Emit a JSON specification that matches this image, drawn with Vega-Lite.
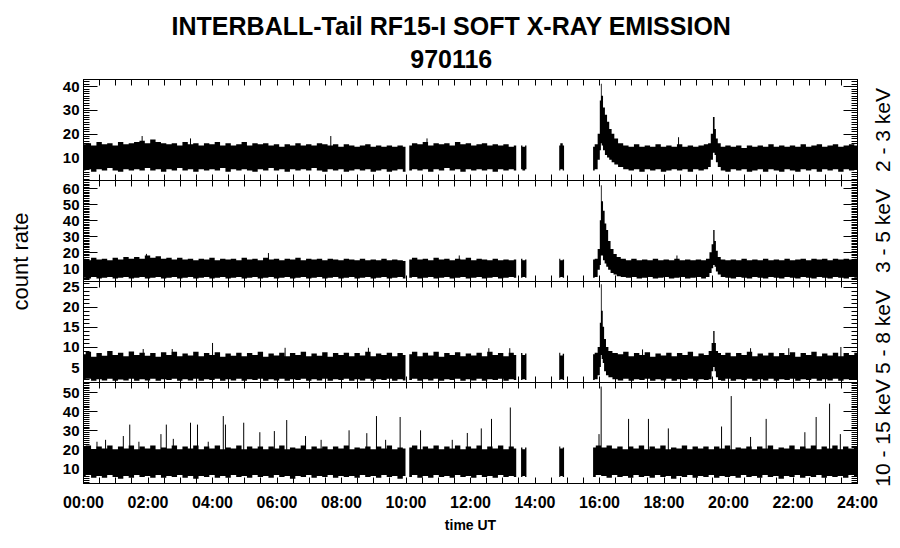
{
"$schema": "https://vega.github.io/schema/vega-lite/v6.json",
"background": "white",
"padding": {"left": 8, "top": 14, "right": 5, "bottom": 5},
"title": {"text": ["INTERBALL-Tail RF15-I SOFT X-RAY EMISSION", "970116"], "font": "Liberation Sans", "fontWeight": "bold", "fontSize": 25, "lineHeight": 33, "color": "black", "anchor": "middle", "offset": -1},
"config": {
 "font": "Liberation Sans",
 "view": {"stroke": "black", "strokeWidth": 1},
 "axis": {"domainColor": "black", "domainWidth": 1, "tickColor": "black", "tickWidth": 1, "labelColor": "black", "titleColor": "black", "grid": false, "labelFont": "Liberation Sans", "labelFontWeight": "bold", "labelFontSize": 15, "labelOverlap": false, "labelFlush": false, "titleFont": "Liberation Sans"}
},
"datasets": {
"band": [
{"p":1,"s":1,"t":0,"l":4.5,"h":15.5},{"p":1,"s":1,"t":10,"l":5,"h":16},{"p":1,"s":1,"t":20,"l":4,"h":15},{"p":1,"s":1,"t":30,"l":5,"h":16.5},{"p":1,"s":1,"t":40,"l":4.5,"h":15.5},{"p":1,"s":1,"t":50,"l":5.5,"h":16},{"p":1,"s":1,"t":60,"l":4.5,"h":15},{"p":1,"s":1,"t":70,"l":4,"h":16.5},{"p":1,"s":1,"t":80,"l":5,"h":15.5},{"p":1,"s":1,"t":90,"l":4.5,"h":16},
{"p":1,"s":1,"t":100,"l":5,"h":16.5},{"p":1,"s":1,"t":110,"l":4.5,"h":17},{"p":1,"s":1,"t":120,"l":5.5,"h":16},{"p":1,"s":1,"t":130,"l":4.5,"h":17.5},{"p":1,"s":1,"t":140,"l":5,"h":16.5},{"p":1,"s":1,"t":150,"l":4,"h":16},{"p":1,"s":1,"t":160,"l":5,"h":15.5},{"p":1,"s":1,"t":170,"l":4.5,"h":16},{"p":1,"s":1,"t":180,"l":5.5,"h":15},{"p":1,"s":1,"t":190,"l":4.5,"h":16.5},
{"p":1,"s":1,"t":200,"l":5,"h":15.5},{"p":1,"s":1,"t":210,"l":4,"h":16},{"p":1,"s":1,"t":220,"l":5,"h":15},{"p":1,"s":1,"t":230,"l":4.5,"h":16},{"p":1,"s":1,"t":240,"l":5,"h":15.5},{"p":1,"s":1,"t":250,"l":4.5,"h":16.5},{"p":1,"s":1,"t":260,"l":5.5,"h":15},{"p":1,"s":1,"t":270,"l":4,"h":16},{"p":1,"s":1,"t":280,"l":5,"h":15},{"p":1,"s":1,"t":290,"l":4.5,"h":15.5},
{"p":1,"s":1,"t":300,"l":5,"h":16.5},{"p":1,"s":1,"t":310,"l":4.5,"h":15},{"p":1,"s":1,"t":320,"l":4,"h":16},{"p":1,"s":1,"t":330,"l":5,"h":15.5},{"p":1,"s":1,"t":340,"l":4.5,"h":16},{"p":1,"s":1,"t":350,"l":5.5,"h":15},{"p":1,"s":1,"t":360,"l":4.5,"h":15.5},{"p":1,"s":1,"t":370,"l":5,"h":14.5},{"p":1,"s":1,"t":380,"l":4,"h":15.5},{"p":1,"s":1,"t":390,"l":5,"h":15},
{"p":1,"s":1,"t":400,"l":4.5,"h":16},{"p":1,"s":1,"t":410,"l":5,"h":15},{"p":1,"s":1,"t":420,"l":4.5,"h":15.5},{"p":1,"s":1,"t":430,"l":5.5,"h":15},{"p":1,"s":1,"t":440,"l":4.5,"h":16},{"p":1,"s":1,"t":450,"l":4,"h":15.5},{"p":1,"s":1,"t":460,"l":5,"h":15},{"p":1,"s":1,"t":470,"l":4.5,"h":15.5},{"p":1,"s":1,"t":480,"l":5,"h":14.5},{"p":1,"s":1,"t":490,"l":4,"h":15.5},
{"p":1,"s":1,"t":500,"l":4.5,"h":15},{"p":1,"s":1,"t":510,"l":5,"h":14.5},{"p":1,"s":1,"t":520,"l":4.5,"h":15},{"p":1,"s":1,"t":530,"l":5,"h":15.5},{"p":1,"s":1,"t":540,"l":4,"h":14.5},{"p":1,"s":1,"t":550,"l":4.5,"h":15},{"p":1,"s":1,"t":560,"l":5,"h":14.5},{"p":1,"s":1,"t":570,"l":4,"h":15},{"p":1,"s":1,"t":580,"l":4.5,"h":14.5},{"p":1,"s":1,"t":590,"l":5,"h":15},{"p":1,"s":1,"t":600,"l":4,"h":14.5},
{"p":1,"s":2,"t":607,"l":4.5,"h":15},{"p":1,"s":2,"t":617,"l":5,"h":16},{"p":1,"s":2,"t":627,"l":4.5,"h":15.5},{"p":1,"s":2,"t":637,"l":5,"h":16.5},{"p":1,"s":2,"t":647,"l":4,"h":15},{"p":1,"s":2,"t":657,"l":5,"h":16},{"p":1,"s":2,"t":667,"l":4.5,"h":15.5},{"p":1,"s":2,"t":677,"l":5.5,"h":16},{"p":1,"s":2,"t":687,"l":4.5,"h":15},{"p":1,"s":2,"t":697,"l":5,"h":16.5},{"p":1,"s":2,"t":707,"l":4,"h":15.5},{"p":1,"s":2,"t":717,"l":5,"h":16},{"p":1,"s":2,"t":727,"l":4.5,"h":15},{"p":1,"s":2,"t":737,"l":5,"h":15.5},{"p":1,"s":2,"t":747,"l":4.5,"h":16},{"p":1,"s":2,"t":757,"l":5,"h":15},{"p":1,"s":2,"t":767,"l":4,"h":15.5},{"p":1,"s":2,"t":777,"l":5,"h":15},{"p":1,"s":2,"t":787,"l":4.5,"h":15.5},{"p":1,"s":2,"t":797,"l":5,"h":14.5},{"p":1,"s":2,"t":806,"l":4.5,"h":15},
{"p":1,"s":3,"t":815,"l":5,"h":15},{"p":1,"s":3,"t":820,"l":4.5,"h":14.5},{"p":1,"s":3,"t":825,"l":5,"h":15},
{"p":1,"s":4,"t":886,"l":4.5,"h":15},{"p":1,"s":4,"t":890,"l":5,"h":16},{"p":1,"s":4,"t":895,"l":4.5,"h":15},
{"p":1,"s":5,"t":949,"l":4.5,"h":14.5},{"p":1,"s":5,"t":955,"l":5,"h":15.5},{"p":1,"s":5,"t":960,"l":9,"h":20},{"p":1,"s":5,"t":963,"l":13,"h":34},{"p":1,"s":5,"t":964,"l":16,"h":41},{"p":1,"s":5,"t":966,"l":15,"h":36},{"p":1,"s":5,"t":969,"l":13,"h":31},{"p":1,"s":5,"t":973,"l":11,"h":28},{"p":1,"s":5,"t":977,"l":10,"h":25},{"p":1,"s":5,"t":981,"l":9,"h":22},{"p":1,"s":5,"t":986,"l":8,"h":20},{"p":1,"s":5,"t":991,"l":7,"h":18},{"p":1,"s":5,"t":1000,"l":6,"h":16},{"p":1,"s":5,"t":1010,"l":5,"h":15},
{"p":1,"s":5,"t":1020,"l":4.5,"h":14.5},{"p":1,"s":5,"t":1030,"l":5,"h":15.5},{"p":1,"s":5,"t":1040,"l":4,"h":14.5},{"p":1,"s":5,"t":1050,"l":5,"h":15},{"p":1,"s":5,"t":1060,"l":4.5,"h":14.5},{"p":1,"s":5,"t":1070,"l":5,"h":15.5},{"p":1,"s":5,"t":1080,"l":4,"h":14.5},{"p":1,"s":5,"t":1090,"l":4.5,"h":15},{"p":1,"s":5,"t":1100,"l":5,"h":14.5},{"p":1,"s":5,"t":1110,"l":4.5,"h":15.5},{"p":1,"s":5,"t":1120,"l":5,"h":14.5},{"p":1,"s":5,"t":1130,"l":4,"h":15},{"p":1,"s":5,"t":1140,"l":5,"h":14.5},{"p":1,"s":5,"t":1150,"l":4.5,"h":15},{"p":1,"s":5,"t":1160,"l":5,"h":15.5},
{"p":1,"s":5,"t":1166,"l":6,"h":16},{"p":1,"s":5,"t":1170,"l":9,"h":20},{"p":1,"s":5,"t":1174,"l":12,"h":27},{"p":1,"s":5,"t":1176,"l":11,"h":22},{"p":1,"s":5,"t":1179,"l":8,"h":18},{"p":1,"s":5,"t":1183,"l":6,"h":16},{"p":1,"s":5,"t":1190,"l":4.5,"h":14.5},
{"p":1,"s":5,"t":1200,"l":4,"h":15},{"p":1,"s":5,"t":1210,"l":5,"h":14.5},{"p":1,"s":5,"t":1220,"l":4.5,"h":15},{"p":1,"s":5,"t":1230,"l":5,"h":14},{"p":1,"s":5,"t":1240,"l":4,"h":15},{"p":1,"s":5,"t":1250,"l":4.5,"h":14.5},{"p":1,"s":5,"t":1260,"l":5,"h":15},{"p":1,"s":5,"t":1270,"l":4,"h":14.5},{"p":1,"s":5,"t":1280,"l":5,"h":15.5},{"p":1,"s":5,"t":1290,"l":4.5,"h":14.5},{"p":1,"s":5,"t":1300,"l":4,"h":15},{"p":1,"s":5,"t":1310,"l":5,"h":14.5},{"p":1,"s":5,"t":1320,"l":4.5,"h":15},{"p":1,"s":5,"t":1330,"l":4,"h":14.5},{"p":1,"s":5,"t":1340,"l":5,"h":15.5},{"p":1,"s":5,"t":1350,"l":4.5,"h":14.5},{"p":1,"s":5,"t":1360,"l":5,"h":15},{"p":1,"s":5,"t":1370,"l":4,"h":15.5},{"p":1,"s":5,"t":1380,"l":5,"h":14.5},{"p":1,"s":5,"t":1390,"l":4.5,"h":15},{"p":1,"s":5,"t":1400,"l":5,"h":15.5},{"p":1,"s":5,"t":1410,"l":4,"h":14.5},{"p":1,"s":5,"t":1420,"l":5,"h":15},{"p":1,"s":5,"t":1430,"l":4.5,"h":15.5},{"p":1,"s":5,"t":1440,"l":5,"h":15},

{"p":2,"s":1,"t":0,"l":4,"h":16},{"p":2,"s":1,"t":10,"l":3.5,"h":15},{"p":2,"s":1,"t":20,"l":4.5,"h":16.5},{"p":2,"s":1,"t":30,"l":3.5,"h":15.5},{"p":2,"s":1,"t":40,"l":4,"h":16},{"p":2,"s":1,"t":50,"l":4.5,"h":15},{"p":2,"s":1,"t":60,"l":3.5,"h":16.5},{"p":2,"s":1,"t":70,"l":4,"h":15.5},{"p":2,"s":1,"t":80,"l":4.5,"h":17},{"p":2,"s":1,"t":90,"l":3.5,"h":16},
{"p":2,"s":1,"t":100,"l":4,"h":17},{"p":2,"s":1,"t":110,"l":4.5,"h":16},{"p":2,"s":1,"t":120,"l":3.5,"h":18},{"p":2,"s":1,"t":130,"l":4,"h":16.5},{"p":2,"s":1,"t":140,"l":4.5,"h":17.5},{"p":2,"s":1,"t":150,"l":3.5,"h":16},{"p":2,"s":1,"t":160,"l":4,"h":16.5},{"p":2,"s":1,"t":170,"l":4.5,"h":15.5},{"p":2,"s":1,"t":180,"l":3.5,"h":16.5},{"p":2,"s":1,"t":190,"l":4,"h":15.5},
{"p":2,"s":1,"t":200,"l":4.5,"h":16},{"p":2,"s":1,"t":210,"l":3.5,"h":15},{"p":2,"s":1,"t":220,"l":4,"h":16},{"p":2,"s":1,"t":230,"l":4.5,"h":15.5},{"p":2,"s":1,"t":240,"l":3.5,"h":16.5},{"p":2,"s":1,"t":250,"l":4,"h":15},{"p":2,"s":1,"t":260,"l":4.5,"h":16},{"p":2,"s":1,"t":270,"l":3.5,"h":15.5},{"p":2,"s":1,"t":280,"l":4,"h":16},{"p":2,"s":1,"t":290,"l":4.5,"h":15},
{"p":2,"s":1,"t":300,"l":3.5,"h":16.5},{"p":2,"s":1,"t":310,"l":4,"h":15.5},{"p":2,"s":1,"t":320,"l":4.5,"h":16},{"p":2,"s":1,"t":330,"l":3.5,"h":15},{"p":2,"s":1,"t":340,"l":4,"h":16.5},{"p":2,"s":1,"t":350,"l":4.5,"h":15.5},{"p":2,"s":1,"t":360,"l":3.5,"h":16},{"p":2,"s":1,"t":370,"l":4,"h":15},{"p":2,"s":1,"t":380,"l":4.5,"h":16},{"p":2,"s":1,"t":390,"l":3.5,"h":15.5},
{"p":2,"s":1,"t":400,"l":4,"h":16.5},{"p":2,"s":1,"t":410,"l":4.5,"h":15},{"p":2,"s":1,"t":420,"l":3.5,"h":16},{"p":2,"s":1,"t":430,"l":4,"h":15.5},{"p":2,"s":1,"t":440,"l":4.5,"h":16},{"p":2,"s":1,"t":450,"l":3.5,"h":15},{"p":2,"s":1,"t":460,"l":4,"h":16},{"p":2,"s":1,"t":470,"l":4.5,"h":15.5},{"p":2,"s":1,"t":480,"l":3.5,"h":15},{"p":2,"s":1,"t":490,"l":4,"h":16},
{"p":2,"s":1,"t":500,"l":4.5,"h":15.5},{"p":2,"s":1,"t":510,"l":3.5,"h":15},{"p":2,"s":1,"t":520,"l":4,"h":16},{"p":2,"s":1,"t":530,"l":4.5,"h":15},{"p":2,"s":1,"t":540,"l":3.5,"h":15.5},{"p":2,"s":1,"t":550,"l":4,"h":15},{"p":2,"s":1,"t":560,"l":4.5,"h":16},{"p":2,"s":1,"t":570,"l":3.5,"h":15},{"p":2,"s":1,"t":580,"l":4,"h":15.5},{"p":2,"s":1,"t":590,"l":4.5,"h":15},{"p":2,"s":1,"t":600,"l":3.5,"h":14.5},
{"p":2,"s":2,"t":607,"l":4,"h":15.5},{"p":2,"s":2,"t":617,"l":4.5,"h":16.5},{"p":2,"s":2,"t":627,"l":3.5,"h":15.5},{"p":2,"s":2,"t":637,"l":4,"h":16},{"p":2,"s":2,"t":647,"l":4.5,"h":15},{"p":2,"s":2,"t":657,"l":3.5,"h":16.5},{"p":2,"s":2,"t":667,"l":4,"h":15.5},{"p":2,"s":2,"t":677,"l":4.5,"h":16},{"p":2,"s":2,"t":687,"l":3.5,"h":15},{"p":2,"s":2,"t":697,"l":4,"h":16},{"p":2,"s":2,"t":707,"l":4.5,"h":15.5},{"p":2,"s":2,"t":717,"l":3.5,"h":16.5},{"p":2,"s":2,"t":727,"l":4,"h":15},{"p":2,"s":2,"t":737,"l":4.5,"h":16},{"p":2,"s":2,"t":747,"l":3.5,"h":15.5},{"p":2,"s":2,"t":757,"l":4,"h":15},{"p":2,"s":2,"t":767,"l":4.5,"h":16},{"p":2,"s":2,"t":777,"l":3.5,"h":15},{"p":2,"s":2,"t":787,"l":4,"h":15.5},{"p":2,"s":2,"t":797,"l":4.5,"h":15},{"p":2,"s":2,"t":806,"l":4,"h":15.5},
{"p":2,"s":3,"t":815,"l":4,"h":16},{"p":2,"s":3,"t":820,"l":4.5,"h":15},{"p":2,"s":3,"t":825,"l":4,"h":15.5},
{"p":2,"s":4,"t":886,"l":4,"h":16},{"p":2,"s":4,"t":890,"l":4.5,"h":15},{"p":2,"s":4,"t":895,"l":4,"h":15.5},
{"p":2,"s":5,"t":949,"l":4,"h":15.5},{"p":2,"s":5,"t":955,"l":4.5,"h":16},{"p":2,"s":5,"t":960,"l":9,"h":22},{"p":2,"s":5,"t":963,"l":12,"h":40},{"p":2,"s":5,"t":964,"l":18,"h":62},{"p":2,"s":5,"t":966,"l":18,"h":52},{"p":2,"s":5,"t":969,"l":15,"h":46},{"p":2,"s":5,"t":972,"l":13,"h":38},{"p":2,"s":5,"t":975,"l":11,"h":34},{"p":2,"s":5,"t":979,"l":9,"h":27},{"p":2,"s":5,"t":984,"l":7,"h":22},{"p":2,"s":5,"t":990,"l":6,"h":19},{"p":2,"s":5,"t":996,"l":5,"h":17},{"p":2,"s":5,"t":1005,"l":4.5,"h":16},
{"p":2,"s":5,"t":1015,"l":4,"h":15},{"p":2,"s":5,"t":1025,"l":4.5,"h":16},{"p":2,"s":5,"t":1035,"l":3.5,"h":15},{"p":2,"s":5,"t":1045,"l":4,"h":15.5},{"p":2,"s":5,"t":1055,"l":4.5,"h":15},{"p":2,"s":5,"t":1065,"l":3.5,"h":16},{"p":2,"s":5,"t":1075,"l":4,"h":15},{"p":2,"s":5,"t":1085,"l":4.5,"h":15.5},{"p":2,"s":5,"t":1095,"l":3.5,"h":15},{"p":2,"s":5,"t":1105,"l":4,"h":16},{"p":2,"s":5,"t":1115,"l":4.5,"h":15},{"p":2,"s":5,"t":1125,"l":3.5,"h":15.5},{"p":2,"s":5,"t":1135,"l":4,"h":15},{"p":2,"s":5,"t":1145,"l":4.5,"h":15.5},{"p":2,"s":5,"t":1155,"l":3.5,"h":15},
{"p":2,"s":5,"t":1163,"l":4.5,"h":16},{"p":2,"s":5,"t":1168,"l":7,"h":20},{"p":2,"s":5,"t":1171,"l":10,"h":25},{"p":2,"s":5,"t":1174,"l":12,"h":34},{"p":2,"s":5,"t":1176,"l":11,"h":27},{"p":2,"s":5,"t":1179,"l":8,"h":21},{"p":2,"s":5,"t":1183,"l":6,"h":17},{"p":2,"s":5,"t":1190,"l":4.5,"h":15.5},
{"p":2,"s":5,"t":1200,"l":4,"h":15},{"p":2,"s":5,"t":1210,"l":3.5,"h":15.5},{"p":2,"s":5,"t":1220,"l":4.5,"h":15},{"p":2,"s":5,"t":1230,"l":4,"h":16},{"p":2,"s":5,"t":1240,"l":3.5,"h":15},{"p":2,"s":5,"t":1250,"l":4.5,"h":15.5},{"p":2,"s":5,"t":1260,"l":4,"h":15},{"p":2,"s":5,"t":1270,"l":3.5,"h":16},{"p":2,"s":5,"t":1280,"l":4.5,"h":15},{"p":2,"s":5,"t":1290,"l":4,"h":15.5},{"p":2,"s":5,"t":1300,"l":3.5,"h":15},{"p":2,"s":5,"t":1310,"l":4.5,"h":16},{"p":2,"s":5,"t":1320,"l":4,"h":15},{"p":2,"s":5,"t":1330,"l":3.5,"h":15.5},{"p":2,"s":5,"t":1340,"l":4.5,"h":16},{"p":2,"s":5,"t":1350,"l":4,"h":15},{"p":2,"s":5,"t":1360,"l":3.5,"h":16},{"p":2,"s":5,"t":1370,"l":4.5,"h":15.5},{"p":2,"s":5,"t":1380,"l":4,"h":16},{"p":2,"s":5,"t":1390,"l":3.5,"h":15},{"p":2,"s":5,"t":1400,"l":4.5,"h":16},{"p":2,"s":5,"t":1410,"l":4,"h":15.5},{"p":2,"s":5,"t":1420,"l":3.5,"h":16},{"p":2,"s":5,"t":1430,"l":4.5,"h":15.5},{"p":2,"s":5,"t":1440,"l":4,"h":16},

{"p":3,"s":1,"t":0,"l":1.8,"h":8.2},{"p":3,"s":1,"t":10,"l":2.1,"h":8.8},{"p":3,"s":1,"t":20,"l":1.6,"h":7.6},{"p":3,"s":1,"t":30,"l":2,"h":8.5},{"p":3,"s":1,"t":40,"l":1.7,"h":7.8},{"p":3,"s":1,"t":50,"l":2.1,"h":9},{"p":3,"s":1,"t":60,"l":1.6,"h":8},{"p":3,"s":1,"t":70,"l":1.9,"h":8.6},{"p":3,"s":1,"t":80,"l":1.7,"h":7.7},{"p":3,"s":1,"t":90,"l":2.1,"h":8.9},
{"p":3,"s":1,"t":100,"l":1.6,"h":8},{"p":3,"s":1,"t":110,"l":2,"h":8.6},{"p":3,"s":1,"t":120,"l":1.7,"h":7.8},{"p":3,"s":1,"t":130,"l":2.1,"h":8.5},{"p":3,"s":1,"t":140,"l":1.6,"h":7.6},{"p":3,"s":1,"t":150,"l":2,"h":8.7},{"p":3,"s":1,"t":160,"l":1.8,"h":8},{"p":3,"s":1,"t":170,"l":2.1,"h":8.8},{"p":3,"s":1,"t":180,"l":1.6,"h":7.7},{"p":3,"s":1,"t":190,"l":2,"h":8.4},
{"p":3,"s":1,"t":200,"l":1.7,"h":7.9},{"p":3,"s":1,"t":210,"l":2.1,"h":8.8},{"p":3,"s":1,"t":220,"l":1.6,"h":7.7},{"p":3,"s":1,"t":230,"l":2,"h":8.5},{"p":3,"s":1,"t":240,"l":1.8,"h":8},{"p":3,"s":1,"t":250,"l":2.1,"h":8.7},{"p":3,"s":1,"t":260,"l":1.6,"h":7.6},{"p":3,"s":1,"t":270,"l":2,"h":8.4},{"p":3,"s":1,"t":280,"l":1.7,"h":7.8},{"p":3,"s":1,"t":290,"l":2.1,"h":8.6},
{"p":3,"s":1,"t":300,"l":1.6,"h":7.7},{"p":3,"s":1,"t":310,"l":2,"h":8.5},{"p":3,"s":1,"t":320,"l":1.8,"h":8},{"p":3,"s":1,"t":330,"l":2.1,"h":8.8},{"p":3,"s":1,"t":340,"l":1.6,"h":7.6},{"p":3,"s":1,"t":350,"l":2,"h":8.4},{"p":3,"s":1,"t":360,"l":1.7,"h":7.9},{"p":3,"s":1,"t":370,"l":2.1,"h":8.6},{"p":3,"s":1,"t":380,"l":1.6,"h":7.7},{"p":3,"s":1,"t":390,"l":2,"h":8.5},
{"p":3,"s":1,"t":400,"l":1.8,"h":8},{"p":3,"s":1,"t":410,"l":2.1,"h":8.8},{"p":3,"s":1,"t":420,"l":1.6,"h":7.7},{"p":3,"s":1,"t":430,"l":2,"h":8.4},{"p":3,"s":1,"t":440,"l":1.7,"h":7.8},{"p":3,"s":1,"t":450,"l":2.1,"h":8.7},{"p":3,"s":1,"t":460,"l":1.6,"h":7.6},{"p":3,"s":1,"t":470,"l":2,"h":8.5},{"p":3,"s":1,"t":480,"l":1.8,"h":8},{"p":3,"s":1,"t":490,"l":2.1,"h":8.6},
{"p":3,"s":1,"t":500,"l":1.6,"h":7.7},{"p":3,"s":1,"t":510,"l":2,"h":8.5},{"p":3,"s":1,"t":520,"l":1.7,"h":7.9},{"p":3,"s":1,"t":530,"l":2.1,"h":8.8},{"p":3,"s":1,"t":540,"l":1.6,"h":7.7},{"p":3,"s":1,"t":550,"l":2,"h":8.4},{"p":3,"s":1,"t":560,"l":1.8,"h":8},{"p":3,"s":1,"t":570,"l":2.1,"h":8.6},{"p":3,"s":1,"t":580,"l":1.6,"h":7.7},{"p":3,"s":1,"t":590,"l":2,"h":8.5},{"p":3,"s":1,"t":600,"l":1.7,"h":8},
{"p":3,"s":2,"t":607,"l":1.8,"h":8.2},{"p":3,"s":2,"t":617,"l":2.1,"h":8.8},{"p":3,"s":2,"t":627,"l":1.6,"h":7.7},{"p":3,"s":2,"t":637,"l":2,"h":8.6},{"p":3,"s":2,"t":647,"l":1.7,"h":7.9},{"p":3,"s":2,"t":657,"l":2.1,"h":8.8},{"p":3,"s":2,"t":667,"l":1.6,"h":7.6},{"p":3,"s":2,"t":677,"l":2,"h":8.5},{"p":3,"s":2,"t":687,"l":1.8,"h":8},{"p":3,"s":2,"t":697,"l":2.1,"h":8.7},{"p":3,"s":2,"t":707,"l":1.6,"h":7.7},{"p":3,"s":2,"t":717,"l":2,"h":8.4},{"p":3,"s":2,"t":727,"l":1.7,"h":7.9},{"p":3,"s":2,"t":737,"l":2.1,"h":8.6},{"p":3,"s":2,"t":747,"l":1.6,"h":7.7},{"p":3,"s":2,"t":757,"l":2,"h":8.8},{"p":3,"s":2,"t":767,"l":1.8,"h":8},{"p":3,"s":2,"t":777,"l":2.1,"h":8.5},{"p":3,"s":2,"t":787,"l":1.6,"h":7.7},{"p":3,"s":2,"t":797,"l":2,"h":8.6},{"p":3,"s":2,"t":806,"l":1.8,"h":8},
{"p":3,"s":3,"t":815,"l":1.8,"h":8.5},{"p":3,"s":3,"t":820,"l":2,"h":8},{"p":3,"s":3,"t":825,"l":1.8,"h":8.4},
{"p":3,"s":4,"t":886,"l":1.8,"h":8.6},{"p":3,"s":4,"t":890,"l":2,"h":7.9},{"p":3,"s":4,"t":895,"l":1.8,"h":8.3},
{"p":3,"s":5,"t":949,"l":1.8,"h":8.2},{"p":3,"s":5,"t":955,"l":2,"h":8.6},{"p":3,"s":5,"t":960,"l":3,"h":10},{"p":3,"s":5,"t":963,"l":5,"h":16},{"p":3,"s":5,"t":964,"l":8,"h":25.6},{"p":3,"s":5,"t":966,"l":7,"h":19},{"p":3,"s":5,"t":968,"l":6,"h":15},{"p":3,"s":5,"t":971,"l":4,"h":12},{"p":3,"s":5,"t":975,"l":3,"h":10},{"p":3,"s":5,"t":980,"l":2.5,"h":9},{"p":3,"s":5,"t":990,"l":2,"h":8.5},
{"p":3,"s":5,"t":1000,"l":1.7,"h":8.2},{"p":3,"s":5,"t":1010,"l":2.1,"h":8.8},{"p":3,"s":5,"t":1020,"l":1.6,"h":7.7},{"p":3,"s":5,"t":1030,"l":2,"h":8.5},{"p":3,"s":5,"t":1040,"l":1.8,"h":8},{"p":3,"s":5,"t":1050,"l":2.1,"h":8.7},{"p":3,"s":5,"t":1060,"l":1.6,"h":7.6},{"p":3,"s":5,"t":1070,"l":2,"h":8.4},{"p":3,"s":5,"t":1080,"l":1.7,"h":7.9},{"p":3,"s":5,"t":1090,"l":2.1,"h":8.6},{"p":3,"s":5,"t":1100,"l":1.6,"h":7.7},{"p":3,"s":5,"t":1110,"l":2,"h":8.5},{"p":3,"s":5,"t":1120,"l":1.8,"h":8},{"p":3,"s":5,"t":1130,"l":2.1,"h":8.8},{"p":3,"s":5,"t":1140,"l":1.6,"h":7.7},{"p":3,"s":5,"t":1150,"l":2,"h":8.4},{"p":3,"s":5,"t":1160,"l":1.8,"h":8},
{"p":3,"s":5,"t":1168,"l":2,"h":9},{"p":3,"s":5,"t":1171,"l":4,"h":11},{"p":3,"s":5,"t":1174,"l":5,"h":14},{"p":3,"s":5,"t":1176,"l":4,"h":11},{"p":3,"s":5,"t":1179,"l":2.5,"h":9},{"p":3,"s":5,"t":1184,"l":1.8,"h":8.5},{"p":3,"s":5,"t":1190,"l":1.6,"h":8},
{"p":3,"s":5,"t":1200,"l":2.1,"h":8.6},{"p":3,"s":5,"t":1210,"l":1.6,"h":7.7},{"p":3,"s":5,"t":1220,"l":2,"h":8.5},{"p":3,"s":5,"t":1230,"l":1.8,"h":8},{"p":3,"s":5,"t":1240,"l":2.1,"h":8.8},{"p":3,"s":5,"t":1250,"l":1.6,"h":7.7},{"p":3,"s":5,"t":1260,"l":2,"h":8.4},{"p":3,"s":5,"t":1270,"l":1.7,"h":7.9},{"p":3,"s":5,"t":1280,"l":2.1,"h":8.6},{"p":3,"s":5,"t":1290,"l":1.6,"h":7.7},{"p":3,"s":5,"t":1300,"l":2,"h":8.5},{"p":3,"s":5,"t":1310,"l":1.8,"h":8},{"p":3,"s":5,"t":1320,"l":2.1,"h":8.7},{"p":3,"s":5,"t":1330,"l":1.6,"h":7.6},{"p":3,"s":5,"t":1340,"l":2,"h":8.5},{"p":3,"s":5,"t":1350,"l":1.8,"h":8},{"p":3,"s":5,"t":1360,"l":2.1,"h":8.8},{"p":3,"s":5,"t":1370,"l":1.6,"h":7.7},{"p":3,"s":5,"t":1380,"l":2,"h":8.4},{"p":3,"s":5,"t":1390,"l":1.7,"h":7.9},{"p":3,"s":5,"t":1400,"l":2.1,"h":8.6},{"p":3,"s":5,"t":1410,"l":1.6,"h":7.7},{"p":3,"s":5,"t":1420,"l":2,"h":8.5},{"p":3,"s":5,"t":1430,"l":1.8,"h":8},{"p":3,"s":5,"t":1440,"l":2,"h":8.6},

{"p":4,"s":1,"t":0,"l":5.5,"h":21},{"p":4,"s":1,"t":10,"l":6.5,"h":22},{"p":4,"s":1,"t":20,"l":5,"h":20},{"p":4,"s":1,"t":30,"l":6,"h":21.5},{"p":4,"s":1,"t":40,"l":5,"h":20.5},{"p":4,"s":1,"t":50,"l":6.5,"h":22},{"p":4,"s":1,"t":60,"l":5.5,"h":20},{"p":4,"s":1,"t":70,"l":4.5,"h":21.5},{"p":4,"s":1,"t":80,"l":6,"h":20.5},{"p":4,"s":1,"t":90,"l":5,"h":22},
{"p":4,"s":1,"t":100,"l":6.5,"h":20},{"p":4,"s":1,"t":110,"l":5.5,"h":21.5},{"p":4,"s":1,"t":120,"l":6,"h":20.5},{"p":4,"s":1,"t":130,"l":5,"h":22},{"p":4,"s":1,"t":140,"l":6.5,"h":20},{"p":4,"s":1,"t":150,"l":5,"h":21},{"p":4,"s":1,"t":160,"l":6,"h":20.5},{"p":4,"s":1,"t":170,"l":5.5,"h":22},{"p":4,"s":1,"t":180,"l":6.5,"h":20},{"p":4,"s":1,"t":190,"l":5,"h":21.5},
{"p":4,"s":1,"t":200,"l":6,"h":20.5},{"p":4,"s":1,"t":210,"l":4.5,"h":22},{"p":4,"s":1,"t":220,"l":6,"h":20},{"p":4,"s":1,"t":230,"l":5.5,"h":21.5},{"p":4,"s":1,"t":240,"l":6.5,"h":20.5},{"p":4,"s":1,"t":250,"l":5,"h":22},{"p":4,"s":1,"t":260,"l":6,"h":20},{"p":4,"s":1,"t":270,"l":5,"h":21},{"p":4,"s":1,"t":280,"l":6.5,"h":20.5},{"p":4,"s":1,"t":290,"l":5.5,"h":22},
{"p":4,"s":1,"t":300,"l":6,"h":20},{"p":4,"s":1,"t":310,"l":5,"h":21.5},{"p":4,"s":1,"t":320,"l":6.5,"h":20.5},{"p":4,"s":1,"t":330,"l":5.5,"h":21.5},{"p":4,"s":1,"t":340,"l":6,"h":20},{"p":4,"s":1,"t":350,"l":5,"h":21.5},{"p":4,"s":1,"t":360,"l":6.5,"h":20.5},{"p":4,"s":1,"t":370,"l":5.5,"h":22},{"p":4,"s":1,"t":380,"l":6,"h":20},{"p":4,"s":1,"t":390,"l":4.5,"h":21},
{"p":4,"s":1,"t":400,"l":6,"h":20.5},{"p":4,"s":1,"t":410,"l":5.5,"h":22},{"p":4,"s":1,"t":420,"l":6.5,"h":20},{"p":4,"s":1,"t":430,"l":5,"h":21.5},{"p":4,"s":1,"t":440,"l":6,"h":20.5},{"p":4,"s":1,"t":450,"l":5.5,"h":21.5},{"p":4,"s":1,"t":460,"l":6.5,"h":20},{"p":4,"s":1,"t":470,"l":5,"h":21.5},{"p":4,"s":1,"t":480,"l":6,"h":20.5},{"p":4,"s":1,"t":490,"l":5.5,"h":22},
{"p":4,"s":1,"t":500,"l":6,"h":20},{"p":4,"s":1,"t":510,"l":5,"h":21},{"p":4,"s":1,"t":520,"l":6.5,"h":20.5},{"p":4,"s":1,"t":530,"l":5.5,"h":21.5},{"p":4,"s":1,"t":540,"l":6,"h":20},{"p":4,"s":1,"t":550,"l":5,"h":21.5},{"p":4,"s":1,"t":560,"l":6.5,"h":20.5},{"p":4,"s":1,"t":570,"l":5.5,"h":22},{"p":4,"s":1,"t":580,"l":6,"h":20},{"p":4,"s":1,"t":590,"l":4.5,"h":21},{"p":4,"s":1,"t":600,"l":6,"h":20.5},
{"p":4,"s":2,"t":607,"l":5.5,"h":21},{"p":4,"s":2,"t":617,"l":6.5,"h":22},{"p":4,"s":2,"t":627,"l":5,"h":20},{"p":4,"s":2,"t":637,"l":6,"h":21.5},{"p":4,"s":2,"t":647,"l":5,"h":20.5},{"p":4,"s":2,"t":657,"l":6.5,"h":22},{"p":4,"s":2,"t":667,"l":5.5,"h":20},{"p":4,"s":2,"t":677,"l":6,"h":21.5},{"p":4,"s":2,"t":687,"l":5,"h":20.5},{"p":4,"s":2,"t":697,"l":6.5,"h":22},{"p":4,"s":2,"t":707,"l":5.5,"h":20},{"p":4,"s":2,"t":717,"l":6,"h":21.5},{"p":4,"s":2,"t":727,"l":5,"h":20.5},{"p":4,"s":2,"t":737,"l":6.5,"h":22},{"p":4,"s":2,"t":747,"l":5.5,"h":20},{"p":4,"s":2,"t":757,"l":6,"h":21.5},{"p":4,"s":2,"t":767,"l":5,"h":20.5},{"p":4,"s":2,"t":777,"l":6.5,"h":22},{"p":4,"s":2,"t":787,"l":5.5,"h":20},{"p":4,"s":2,"t":797,"l":6,"h":21.5},{"p":4,"s":2,"t":806,"l":5.5,"h":20.5},
{"p":4,"s":3,"t":815,"l":5.5,"h":21},{"p":4,"s":3,"t":820,"l":6,"h":20},{"p":4,"s":3,"t":825,"l":5.5,"h":21},
{"p":4,"s":4,"t":886,"l":5.5,"h":21.5},{"p":4,"s":4,"t":890,"l":6,"h":20.5},{"p":4,"s":4,"t":895,"l":5.5,"h":21},
{"p":4,"s":5,"t":949,"l":5.5,"h":21},{"p":4,"s":5,"t":959,"l":6.5,"h":22},{"p":4,"s":5,"t":969,"l":6,"h":21},{"p":4,"s":5,"t":979,"l":5,"h":22},{"p":4,"s":5,"t":989,"l":6.5,"h":20.5},{"p":4,"s":5,"t":999,"l":5.5,"h":21.5},{"p":4,"s":5,"t":1009,"l":6,"h":20},
{"p":4,"s":5,"t":1019,"l":5,"h":21.5},{"p":4,"s":5,"t":1029,"l":6.5,"h":20.5},{"p":4,"s":5,"t":1039,"l":5.5,"h":22},{"p":4,"s":5,"t":1049,"l":6,"h":20},{"p":4,"s":5,"t":1059,"l":5,"h":21.5},{"p":4,"s":5,"t":1069,"l":6.5,"h":20.5},{"p":4,"s":5,"t":1079,"l":5.5,"h":22},{"p":4,"s":5,"t":1089,"l":6,"h":20},{"p":4,"s":5,"t":1099,"l":4.5,"h":21},{"p":4,"s":5,"t":1109,"l":6,"h":20.5},
{"p":4,"s":5,"t":1119,"l":5.5,"h":22},{"p":4,"s":5,"t":1129,"l":6.5,"h":20},{"p":4,"s":5,"t":1139,"l":5,"h":21.5},{"p":4,"s":5,"t":1149,"l":6,"h":20.5},{"p":4,"s":5,"t":1159,"l":5.5,"h":21.5},{"p":4,"s":5,"t":1169,"l":6.5,"h":20},{"p":4,"s":5,"t":1179,"l":5,"h":21.5},{"p":4,"s":5,"t":1189,"l":6,"h":20.5},{"p":4,"s":5,"t":1199,"l":5.5,"h":22},{"p":4,"s":5,"t":1209,"l":6,"h":20},
{"p":4,"s":5,"t":1219,"l":5,"h":21},{"p":4,"s":5,"t":1229,"l":6.5,"h":20.5},{"p":4,"s":5,"t":1239,"l":5.5,"h":21.5},{"p":4,"s":5,"t":1249,"l":6,"h":20},{"p":4,"s":5,"t":1259,"l":5,"h":21.5},{"p":4,"s":5,"t":1269,"l":6.5,"h":20.5},{"p":4,"s":5,"t":1279,"l":5.5,"h":22},{"p":4,"s":5,"t":1289,"l":6,"h":20},{"p":4,"s":5,"t":1299,"l":4.5,"h":21},{"p":4,"s":5,"t":1309,"l":6,"h":20.5},
{"p":4,"s":5,"t":1319,"l":5.5,"h":22},{"p":4,"s":5,"t":1329,"l":6.5,"h":20},{"p":4,"s":5,"t":1339,"l":5,"h":21.5},{"p":4,"s":5,"t":1349,"l":6,"h":20.5},{"p":4,"s":5,"t":1359,"l":5.5,"h":22},{"p":4,"s":5,"t":1369,"l":6.5,"h":20},{"p":4,"s":5,"t":1379,"l":5,"h":21.5},{"p":4,"s":5,"t":1389,"l":6,"h":20.5},{"p":4,"s":5,"t":1399,"l":5.5,"h":22},{"p":4,"s":5,"t":1409,"l":6,"h":20},
{"p":4,"s":5,"t":1419,"l":5,"h":21.5},{"p":4,"s":5,"t":1429,"l":6.5,"h":20.5},{"p":4,"s":5,"t":1440,"l":5.5,"h":21.5}
],
"spikes": [
{"p":1,"t":110,"b":12,"v":19},{"p":1,"t":200,"b":12,"v":18},{"p":1,"t":461,"b":12,"v":19},{"p":1,"t":640,"b":12,"v":18},{"p":1,"t":1108,"b":12,"v":18.5},
{"p":2,"t":118,"b":12,"v":19},{"p":2,"t":345,"b":12,"v":19.5},{"p":2,"t":700,"b":12,"v":18},{"p":2,"t":1105,"b":12,"v":18},
{"p":3,"t":112,"b":6,"v":9.5},{"p":3,"t":166,"b":6,"v":9.5},{"p":3,"t":241,"b":6,"v":11},{"p":3,"t":376,"b":6,"v":9.8},{"p":3,"t":531,"b":6,"v":9.8},{"p":3,"t":755,"b":6,"v":9.7},{"p":3,"t":794,"b":6,"v":9.7},{"p":3,"t":1041,"b":6,"v":9.4},{"p":3,"t":1242,"b":6,"v":9.7},{"p":3,"t":1313,"b":6,"v":9.7},{"p":3,"t":1410,"b":6,"v":10},
{"p":4,"t":26,"b":15,"v":24},{"p":4,"t":42,"b":15,"v":25},{"p":4,"t":75,"b":15,"v":27},{"p":4,"t":87,"b":15,"v":33},{"p":4,"t":104,"b":15,"v":24},{"p":4,"t":145,"b":15,"v":28},{"p":4,"t":155,"b":15,"v":33},{"p":4,"t":168,"b":15,"v":25.5},{"p":4,"t":200,"b":15,"v":34},{"p":4,"t":213,"b":15,"v":33},{"p":4,"t":233,"b":15,"v":24},{"p":4,"t":261,"b":15,"v":37.5},{"p":4,"t":265,"b":15,"v":33},{"p":4,"t":299,"b":15,"v":34},{"p":4,"t":329,"b":15,"v":29},{"p":4,"t":356,"b":15,"v":29.6},{"p":4,"t":379,"b":15,"v":35.4},{"p":4,"t":414,"b":15,"v":27},{"p":4,"t":443,"b":15,"v":25},{"p":4,"t":495,"b":15,"v":30},{"p":4,"t":528,"b":15,"v":28.5},{"p":4,"t":546,"b":15,"v":37.5},{"p":4,"t":563,"b":15,"v":25},{"p":4,"t":590,"b":15,"v":37},{"p":4,"t":628,"b":15,"v":30},{"p":4,"t":687,"b":15,"v":25},{"p":4,"t":715,"b":15,"v":28.6},{"p":4,"t":741,"b":15,"v":31},{"p":4,"t":760,"b":15,"v":36},{"p":4,"t":795,"b":15,"v":42},{"p":4,"t":960,"b":15,"v":28},{"p":4,"t":964,"b":15,"v":53},{"p":4,"t":1015,"b":15,"v":36},{"p":4,"t":1052,"b":15,"v":36},{"p":4,"t":1089,"b":15,"v":31},{"p":4,"t":1188,"b":15,"v":32},{"p":4,"t":1206,"b":15,"v":48},{"p":4,"t":1242,"b":15,"v":26.5},{"p":4,"t":1271,"b":15,"v":36},{"p":4,"t":1343,"b":15,"v":29},{"p":4,"t":1364,"b":15,"v":37},{"p":4,"t":1389,"b":15,"v":44},{"p":4,"t":1409,"b":15,"v":28}
]
},
"spacing": 0,
"bounds": "flush",
"vconcat": [
{
 "width": 774, "height": 101,
 "layer": [
  {"data": {"name": "band"}, "transform": [{"filter": "datum.p === 1"}],
   "mark": {"type": "area", "color": "black", "interpolate": "step"},
   "encoding": {
    "x": {"field": "t", "type": "quantitative", "scale": {"domain": [0, 1440], "nice": false, "zero": false}, "axis": {"orient": "bottom", "values": [0,30,60,90,120,150,180,210,240,270,300,330,360,390,420,450,480,510,540,570,600,630,660,690,720,750,780,810,840,870,900,930,960,990,1020,1050,1080,1110,1140,1170,1200,1230,1260,1290,1320,1350,1380,1410,1440], "tickSize": -6, "labels": false, "title": null}},
    "y": {"field": "l", "type": "quantitative", "scale": {"domain": [0.5, 43], "nice": false, "zero": false}, "axis": {"orient": "left", "values": [1,2,3,4,5,6,7,8,9,10,11,12,13,14,15,16,17,18,19,20,21,22,23,24,25,26,27,28,29,30,31,32,33,34,35,36,37,38,39,40,41,42,43], "tickSize": {"condition": {"test": "datum.value % 10 === 0", "value": -14}, "value": -6}, "labelExpr": "datum.value % 10 === 0 ? datum.label : ''", "labelPadding": 18, "title": null}},
    "y2": {"field": "h"},
    "detail": {"field": "s"}
   }},
  {"data": {"name": "spikes"}, "transform": [{"filter": "datum.p === 1"}],
   "mark": {"type": "rule", "color": "black", "strokeWidth": 1},
   "encoding": {
    "x": {"field": "t", "type": "quantitative", "axis": {"orient": "top", "values": [0,30,60,90,120,150,180,210,240,270,300,330,360,390,420,450,480,510,540,570,600,630,660,690,720,750,780,810,840,870,900,930,960,990,1020,1050,1080,1110,1140,1170,1200,1230,1260,1290,1320,1350,1380,1410,1440], "tickSize": -6, "labels": false, "title": null}},
    "y": {"field": "b", "type": "quantitative", "axis": {"orient": "right", "values": [1,2,3,4,5,6,7,8,9,10,11,12,13,14,15,16,17,18,19,20,21,22,23,24,25,26,27,28,29,30,31,32,33,34,35,36,37,38,39,40,41,42,43], "tickSize": {"condition": {"test": "datum.value % 10 === 0", "value": -14}, "value": -6}, "labels": false, "title": "2 - 3 keV", "titleAngle": 270, "titleBaseline": "top", "titleFontSize": 21, "titleFontWeight": "normal", "titlePadding": 15}},
    "y2": {"field": "v"}
   }}
 ],
 "resolve": {"axis": {"x": "independent", "y": "independent"}}
},
{
 "width": 774, "height": 101,
 "layer": [
  {"data": {"name": "band"}, "transform": [{"filter": "datum.p === 2"}],
   "mark": {"type": "area", "color": "black", "interpolate": "step"},
   "encoding": {
    "x": {"field": "t", "type": "quantitative", "scale": {"domain": [0, 1440], "nice": false, "zero": false}, "axis": {"orient": "bottom", "values": [0,30,60,90,120,150,180,210,240,270,300,330,360,390,420,450,480,510,540,570,600,630,660,690,720,750,780,810,840,870,900,930,960,990,1020,1050,1080,1110,1140,1170,1200,1230,1260,1290,1320,1350,1380,1410,1440], "tickSize": -6, "labels": false, "title": null}},
    "y": {"field": "l", "type": "quantitative", "scale": {"domain": [2, 65.3], "nice": false, "zero": false}, "axis": {"orient": "left", "values": [2,3,4,5,6,7,8,9,10,11,12,13,14,15,16,17,18,19,20,21,22,23,24,25,26,27,28,29,30,31,32,33,34,35,36,37,38,39,40,41,42,43,44,45,46,47,48,49,50,51,52,53,54,55,56,57,58,59,60,61,62,63,64,65], "tickSize": {"condition": {"test": "datum.value % 10 === 0", "value": -14}, "value": -6}, "labelExpr": "datum.value % 10 === 0 ? datum.label : ''", "labelPadding": 18, "title": "count rate", "titleX": -63, "titleY": 81, "titleAngle": -90, "titleAlign": "center", "titleBaseline": "middle", "titleFontSize": 22, "titleFontWeight": "normal"}},
    "y2": {"field": "h"},
    "detail": {"field": "s"}
   }},
  {"data": {"name": "spikes"}, "transform": [{"filter": "datum.p === 2"}],
   "mark": {"type": "rule", "color": "black", "strokeWidth": 1},
   "encoding": {
    "x": {"field": "t", "type": "quantitative", "axis": {"orient": "top", "values": [0,30,60,90,120,150,180,210,240,270,300,330,360,390,420,450,480,510,540,570,600,630,660,690,720,750,780,810,840,870,900,930,960,990,1020,1050,1080,1110,1140,1170,1200,1230,1260,1290,1320,1350,1380,1410,1440], "tickSize": -6, "labels": false, "title": null}},
    "y": {"field": "b", "type": "quantitative", "axis": {"orient": "right", "values": [2,3,4,5,6,7,8,9,10,11,12,13,14,15,16,17,18,19,20,21,22,23,24,25,26,27,28,29,30,31,32,33,34,35,36,37,38,39,40,41,42,43,44,45,46,47,48,49,50,51,52,53,54,55,56,57,58,59,60,61,62,63,64,65], "tickSize": {"condition": {"test": "datum.value % 10 === 0", "value": -14}, "value": -6}, "labels": false, "title": "3 - 5 keV", "titleAngle": 270, "titleBaseline": "top", "titleFontSize": 21, "titleFontWeight": "normal", "titlePadding": 15}},
    "y2": {"field": "v"}
   }}
 ],
 "resolve": {"axis": {"x": "independent", "y": "independent"}}
},
{
 "width": 774, "height": 101,
 "layer": [
  {"data": {"name": "band"}, "transform": [{"filter": "datum.p === 3"}],
   "mark": {"type": "area", "color": "black", "interpolate": "step"},
   "encoding": {
    "x": {"field": "t", "type": "quantitative", "scale": {"domain": [0, 1440], "nice": false, "zero": false}, "axis": {"orient": "bottom", "values": [0,30,60,90,120,150,180,210,240,270,300,330,360,390,420,450,480,510,540,570,600,630,660,690,720,750,780,810,840,870,900,930,960,990,1020,1050,1080,1110,1140,1170,1200,1230,1260,1290,1320,1350,1380,1410,1440], "tickSize": -6, "labels": false, "title": null}},
    "y": {"field": "l", "type": "quantitative", "scale": {"domain": [1.3, 26.4], "nice": false, "zero": false}, "axis": {"orient": "left", "values": [2,3,4,5,6,7,8,9,10,11,12,13,14,15,16,17,18,19,20,21,22,23,24,25,26], "tickSize": {"condition": {"test": "datum.value % 5 === 0", "value": -14}, "value": -6}, "labelExpr": "datum.value % 5 === 0 ? datum.label : ''", "labelPadding": 18, "title": null}},
    "y2": {"field": "h"},
    "detail": {"field": "s"}
   }},
  {"data": {"name": "spikes"}, "transform": [{"filter": "datum.p === 3"}],
   "mark": {"type": "rule", "color": "black", "strokeWidth": 1},
   "encoding": {
    "x": {"field": "t", "type": "quantitative", "axis": {"orient": "top", "values": [0,30,60,90,120,150,180,210,240,270,300,330,360,390,420,450,480,510,540,570,600,630,660,690,720,750,780,810,840,870,900,930,960,990,1020,1050,1080,1110,1140,1170,1200,1230,1260,1290,1320,1350,1380,1410,1440], "tickSize": -6, "labels": false, "title": null}},
    "y": {"field": "b", "type": "quantitative", "axis": {"orient": "right", "values": [2,3,4,5,6,7,8,9,10,11,12,13,14,15,16,17,18,19,20,21,22,23,24,25,26], "tickSize": {"condition": {"test": "datum.value % 5 === 0", "value": -14}, "value": -6}, "labels": false, "title": "5 - 8 keV", "titleAngle": 270, "titleBaseline": "top", "titleFontSize": 21, "titleFontWeight": "normal", "titlePadding": 15}},
    "y2": {"field": "v"}
   }}
 ],
 "resolve": {"axis": {"x": "independent", "y": "independent"}}
},
{
 "width": 774, "height": 101,
 "layer": [
  {"data": {"name": "band"}, "transform": [{"filter": "datum.p === 4"}],
   "mark": {"type": "area", "color": "black", "interpolate": "step"},
   "encoding": {
    "x": {"field": "t", "type": "quantitative", "scale": {"domain": [0, 1440], "nice": false, "zero": false}, "axis": {"orient": "bottom", "values": [0,30,60,90,120,150,180,210,240,270,300,330,360,390,420,450,480,510,540,570,600,630,660,690,720,750,780,810,840,870,900,930,960,990,1020,1050,1080,1110,1140,1170,1200,1230,1260,1290,1320,1350,1380,1410,1440], "tickSize": -6, "labelExpr": "datum.value % 120 === 0 ? ((datum.value < 600 ? '0' : '') + (datum.value / 60) + ':00') : ''", "labelPadding": 17, "labelFontSize": 16, "title": "time UT", "titleFontSize": 14, "titleFontWeight": "bold", "titlePadding": 8}},
    "y": {"field": "l", "type": "quantitative", "scale": {"domain": [2.3, 55.4], "nice": false, "zero": false}, "axis": {"orient": "left", "values": [3,4,5,6,7,8,9,10,11,12,13,14,15,16,17,18,19,20,21,22,23,24,25,26,27,28,29,30,31,32,33,34,35,36,37,38,39,40,41,42,43,44,45,46,47,48,49,50,51,52,53,54,55], "tickSize": {"condition": {"test": "datum.value % 10 === 0", "value": -14}, "value": -6}, "labelExpr": "datum.value % 10 === 0 ? datum.label : ''", "labelPadding": 18, "title": null}},
    "y2": {"field": "h"},
    "detail": {"field": "s"}
   }},
  {"data": {"name": "spikes"}, "transform": [{"filter": "datum.p === 4"}],
   "mark": {"type": "rule", "color": "black", "strokeWidth": 1},
   "encoding": {
    "x": {"field": "t", "type": "quantitative", "axis": {"orient": "top", "values": [0,30,60,90,120,150,180,210,240,270,300,330,360,390,420,450,480,510,540,570,600,630,660,690,720,750,780,810,840,870,900,930,960,990,1020,1050,1080,1110,1140,1170,1200,1230,1260,1290,1320,1350,1380,1410,1440], "tickSize": -6, "labels": false, "title": null}},
    "y": {"field": "b", "type": "quantitative", "axis": {"orient": "right", "values": [3,4,5,6,7,8,9,10,11,12,13,14,15,16,17,18,19,20,21,22,23,24,25,26,27,28,29,30,31,32,33,34,35,36,37,38,39,40,41,42,43,44,45,46,47,48,49,50,51,52,53,54,55], "tickSize": {"condition": {"test": "datum.value % 10 === 0", "value": -14}, "value": -6}, "labels": false, "title": "10 - 15 keV", "titleAngle": 270, "titleBaseline": "top", "titleFontSize": 21, "titleFontWeight": "normal", "titlePadding": 15}},
    "y2": {"field": "v"}
   }}
 ],
 "resolve": {"axis": {"x": "independent", "y": "independent"}}
}
]
}
